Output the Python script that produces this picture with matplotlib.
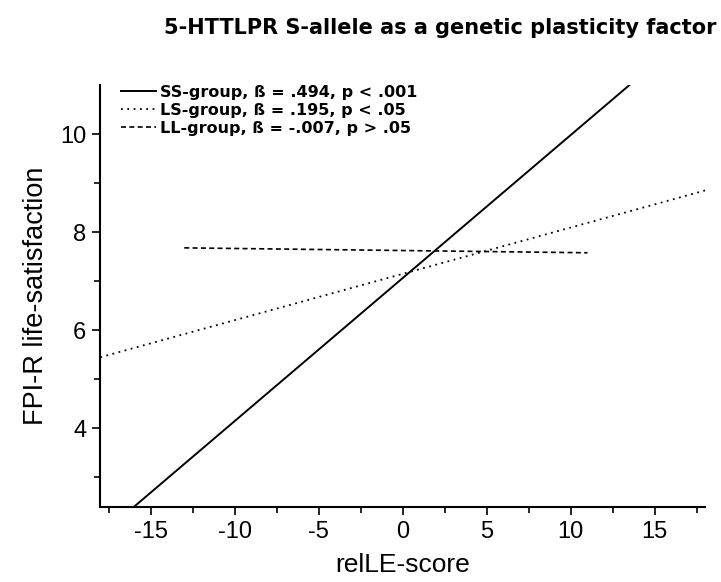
import matplotlib.pyplot as plt

plt.rcParams['font.family'] = ['Liberation Sans', 'DejaVu Sans']
plt.rcParams['axes.unicode_minus'] = False

# regression lines (endpoints) per 5-HTTLPR genotype group
ss_x = [-16.0, 13.5]
ss_y = [2.4, 11.0]
ls_x = [-18.0, 18.0]
ls_y = [5.45, 8.85]
ll_x = [-13.0, 11.0]
ll_y = [7.68, 7.58]

labels = ['SS-group, ß = .494, p < .001',
          'LS-group, ß = .195, p < .05',
          'LL-group, ß = -.007, p > .05']

fig = plt.figure(figsize=(7.21, 5.82), dpi=100)
ax = fig.add_axes([0.139, 0.129, 0.839, 0.725])

ax.plot(ss_x, ss_y, color='black', linewidth=1.4, linestyle='-', label=labels[0])
ax.plot(ls_x, ls_y, color='black', linewidth=1.3, linestyle=(0, (1, 2.5)), label=labels[1])
ax.plot(ll_x, ll_y, color='black', linewidth=1.2, linestyle=(0, (3, 2)), label=labels[2])

ax.set_xlim(-18, 18)
ax.set_ylim(2.4, 11)
ax.set_xticks([-15, -10, -5, 0, 5, 10, 15])
ax.set_xticks([-17.5, -12.5, -7.5, -2.5, 2.5, 7.5, 12.5, 17.5], minor=True)
ax.set_yticks([4, 6, 8, 10])
ax.set_yticks([3, 5, 7, 9], minor=True)

for side in ['top', 'right']:
    ax.spines[side].set_visible(False)
for side in ['left', 'bottom']:
    ax.spines[side].set_linewidth(1.5)

ax.tick_params(which='major', direction='out', length=6, width=1.2, labelsize=17, pad=4)
ax.tick_params(which='minor', direction='out', length=4, width=1.2)

ax.set_xlabel('relLE-score', fontsize=19, labelpad=7)
ax.set_ylabel('FPI-R life-satisfaction', fontsize=19.5, labelpad=8)

leg = ax.legend(loc='upper left', bbox_to_anchor=(0.01, 1.035), frameon=False,
                handlelength=2.2, handletextpad=0.25, labelspacing=0.2,
                prop={'family': 'DejaVu Sans', 'size': 11.5, 'weight': 'bold'})

fig.text(0.61, 0.952, '5-HTTLPR S-allele as a genetic plasticity factor',
         ha='center', va='center', fontsize=15, fontweight='bold',
         family='DejaVu Sans')

fig.savefig('out.png', dpi=100)
